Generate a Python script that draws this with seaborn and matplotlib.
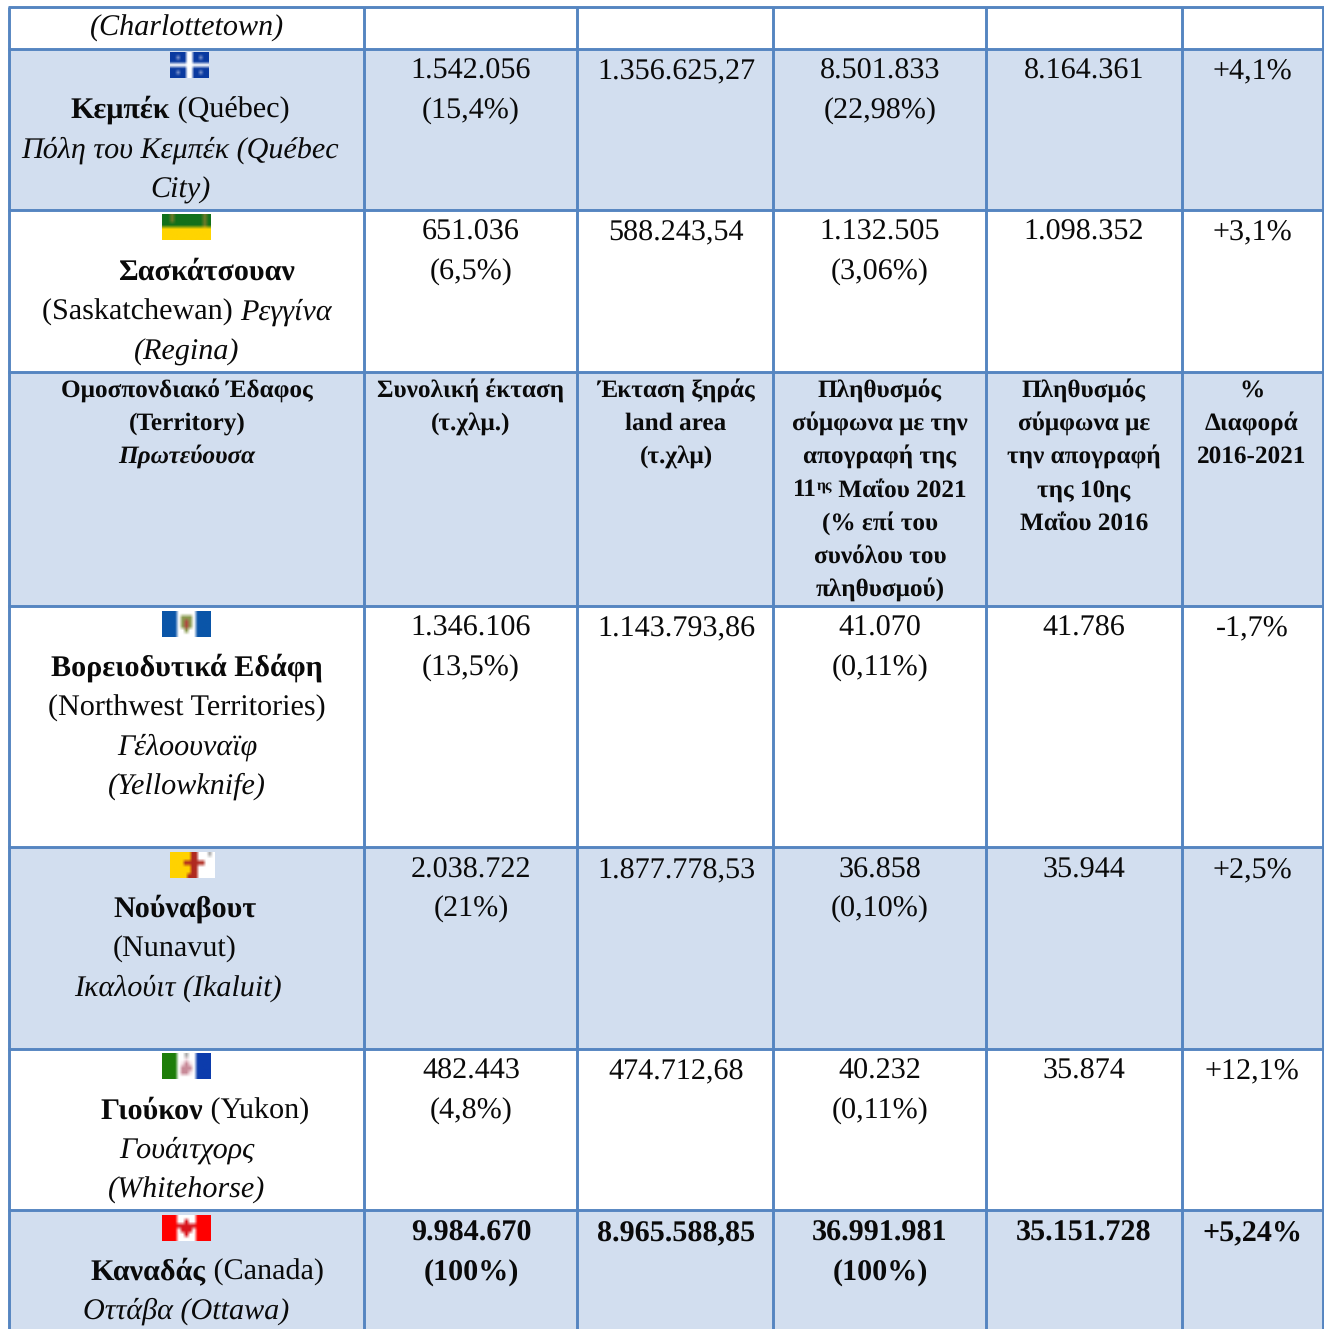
import numpy as np
import matplotlib
matplotlib.use("Agg")
import matplotlib.pyplot as plt
from matplotlib.patches import Rectangle
import seaborn as sns

sns.set_theme(style="white")
plt.rcParams['font.family'] = ['Liberation Serif', 'DejaVu Serif']
plt.rcParams['text.hinting'] = 'no_hinting'

COL_X = [9, 364, 577, 773, 986, 1182, 1323]
ROW_Y = [7, 49, 210, 372, 606, 847, 1049, 1210, 1340]
SHADED = [False, True, False, True, False, True, False, True]
COL_C = [187, 471, 676, 880, 1084, 1252]
FILL = "#D2DEEF"
LINE = "#5585C1"
BODY = 21.7
HEAD = 18.2

# first-column lines: (baseline, centre, [(text, style), ...])
names = [
    [(36, 187, [("(Charlottetown)", "i")])],
    [(118, 180, [("Κεμπέκ", "b"), (" (Québec)", "r")]),
     (158, 180, [("Πόλη του Κεμπέκ (Québec", "i")]),
     (198, 180, [("City)", "i")])],
    [(280, 206, [("Σασκάτσουαν", "b")]),
     (320, 187, [("(Saskatchewan) ", "r"), ("Ρεγγίνα", "i")]),
     (360, 187, [("(Regina)", "i")])],
    [],
    [(676, 187, [("Βορειοδυτικά Εδάφη", "b")]),
     (716, 187, [("(Northwest Territories)", "r")]),
     (755, 187, [("Γέλοουναϊφ", "i")]),
     (794, 187, [("(Yellowknife)", "i")])],
    [(917, 185, [("Νούναβουτ", "b")]),
     (957, 175, [("(Nunavut)", "r")]),
     (996, 178, [("Ικαλούιτ (Ikaluit)", "i")])],
    [(1119, 205, [("Γιούκον", "b"), (" (Yukon)", "r")]),
     (1158, 187, [("Γουάιτχορς", "i")]),
     (1198, 187, [("(Whitehorse)", "i")])],
    [(1280, 207, [("Καναδάς", "b"), (" (Canada)", "r")]),
     (1319, 186, [("Οττάβα (Ottawa)", "i")])],
]

total_area = ["1.542.056\n(15,4%)", "651.036\n(6,5%)", "1.346.106\n(13,5%)",
              "2.038.722\n(21%)", "482.443\n(4,8%)", "9.984.670\n(100%)"]
land_area = ["1.356.625,27", "588.243,54", "1.143.793,86",
             "1.877.778,53", "474.712,68", "8.965.588,85"]
pop_2021 = ["8.501.833\n(22,98%)", "1.132.505\n(3,06%)", "41.070\n(0,11%)",
            "36.858\n(0,10%)", "40.232\n(0,11%)", "36.991.981\n(100%)"]
pop_2016 = ["8.164.361", "1.098.352", "41.786", "35.944", "35.874", "35.151.728"]
change = ["+4,1%", "+3,1%", "-1,7%", "+2,5%", "+12,1%", "+5,24%"]
body_base = [(79, 119), (240, 280), (636, 676), (878, 917), (1079, 1119), (1241, 1281)]

header = [
    ["Ομοσπονδιακό Έδαφος", "(Territory)", "Πρωτεύουσα"],
    ["Συνολική έκταση", "(τ.χλμ.)"],
    ["Έκταση ξηράς", "land area", "(τ.χλμ)"],
    ["Πληθυσμός", "σύμφωνα με την", "απογραφή της", "11|ης| Μαΐου 2021",
     "(% επί του", "συνόλου του", "πληθυσμού)"],
    ["Πληθυσμός", "σύμφωνα με", "την απογραφή", "της 10ης", "Μαΐου 2016"],
    ["%", "Διαφορά", "2016-2021"],
]

# low-resolution flags, drawn blurred as in the scan
PAL = {"B": "#0A3AA0", "W": "#FFFFFF", "G": "#12701A", "Y": "#FFD400", "O": "#6F7A28",
       "N": "#0A55A8", "S": "#8A9A50", "T": "#B04A40", "R": "#FF0000", "D": "#D8141C",
       "A": "#FFD200", "C": "#B02A20", "M": "#C88A98", "L": "#F2DCE2", "Z": "#0C3CAC",
       "H": "#1E7E0A", "g": "#AAAAAA", "b": "#7F95CC"}
flags = [
    ((170, 209, 52, 78), ["BBBBBWWBBBBB", "BBbBBWWBBbBB", "BBBBBWWBBBBB", "WWWWWWWWWWWW",
                          "BBBBBWWBBBBB", "BBbBBWWBBbBB", "BBBBBWWBBBBB"]),
    ((162, 211, 214, 240), ["GGOGGGGGGGOG", "GGOGGGGGGGOG", "GGGGGGGGGGOG", "YYYYYYYYYYYY",
                            "YYYYYYYYYYYY", "YYYYYYYYYYYY"]),
    ((162, 211, 611, 637), ["NNNNWWWWWNNNN", "NNNNWSSSWNNNN", "NNNNWSTSWNNNN", "NNNNWSTSWNNNN",
                            "NNNNWWSWWNNNN", "NNNNWWWWWNNNN"]),
    ((170, 215, 852, 878), ["AAAAAACCWWWgW", "AAAAAACCWWWWW", "AAAACCCCCCWWW", "AAAAAACCWWWWW",
                            "AAAAAACCWWWWW", "AAAAACCCWWWWW"]),
    ((162, 211, 1053, 1079), ["HHHHWWgWWZZZZ", "HHHHWWLWWZZZZ", "HHHHWLMLWZZZZ", "HHHHWMMMWZZZZ",
                              "HHHHWMMLWZZZZ", "HHHHWWWWWZZZZ"]),
    ((162, 211, 1215, 1241), ["RRRRWWWWWRRRR", "RRRRWWDWWRRRR", "RRRRDDDDDRRRR", "RRRRWDDDWRRRR",
                              "RRRRWWDWWRRRR", "RRRRWWWWWRRRR"]),
]

fig = plt.figure(figsize=(13.24, 13.29), dpi=100, facecolor="white")
ax = fig.add_axes([0, 0, 1, 1])
ax.set_axis_off()
ax.set_xlim(0, 1324)
ax.set_ylim(1329, 0)
ax.set_autoscale_on(False)

for i, s in enumerate(SHADED):
    if s:
        ax.add_patch(Rectangle((COL_X[0], ROW_Y[i]), COL_X[-1] - COL_X[0], ROW_Y[i + 1] - ROW_Y[i],
                               fc=FILL, ec="none", zorder=1))
for x in COL_X:
    ax.plot([x, x], [ROW_Y[0], 1329], color=LINE, lw=2.1, zorder=2, solid_capstyle="butt")
for y in ROW_Y[:-1]:
    ax.plot([COL_X[0] - 1, COL_X[-1] + 1], [y, y], color=LINE, lw=2.1, zorder=2, solid_capstyle="butt")

STY = {"b": dict(fontweight="bold"), "i": dict(fontstyle="italic"), "r": dict(),
       "bi": dict(fontweight="bold", fontstyle="italic")}
fig.canvas.draw()
rend = fig.canvas.get_renderer()


def seg_line(cx, base, segs):
    arts, total = [], 0
    for txt, st, sz, rise in segs:
        t = ax.text(0, base - rise, txt, fontsize=sz, color="#0A0A0A", ha="left", va="baseline",
                    zorder=4, **STY[st])
        w = t.get_window_extent(rend).width
        arts.append((t, total))
        total += w
    left = cx - total / 2
    for t, off in arts:
        t.set_x(left + off)


for row in names:
    for base, cx, segs in row:
        seg_line(cx, base, [(a, b, BODY, 0) for a, b in segs])

for i, base in enumerate(body_base):
    st = "b" if i == 5 else "r"
    for col, series in zip(range(1, 6), [total_area, land_area, pop_2021, pop_2016, change]):
        for part, b in zip(series[i].split("\n"), base):
            seg_line(COL_C[col], b, [(part, st, BODY, 0)])

HEAD_BASE = [397, 430, 463, 496.5, 530, 563, 596]
for c, lines in enumerate(header):
    for j, line in enumerate(lines):
        st = "bi" if (c == 0 and j == 2) else "b"
        if "|" in line:
            a, sup, b = line.split("|")
            segs = [(a, "b", HEAD, 0), (sup, "b", HEAD * 0.62, 7), (b, "b", HEAD, 0)]
        else:
            segs = [(line, st, HEAD, 0)]
        seg_line(COL_C[c], HEAD_BASE[j], segs)

for (x0, x1, y0, y1), grid in flags:
    img = np.array([[matplotlib.colors.to_rgb(PAL[ch]) for ch in r] for r in grid])
    ax.imshow(img, extent=(x0, x1, y1, y0), origin="upper", aspect="auto",
              interpolation="bilinear", zorder=3)
ax.set_xlim(0, 1324)
ax.set_ylim(1329, 0)

fig.savefig("out.png", dpi=100, facecolor="white")
